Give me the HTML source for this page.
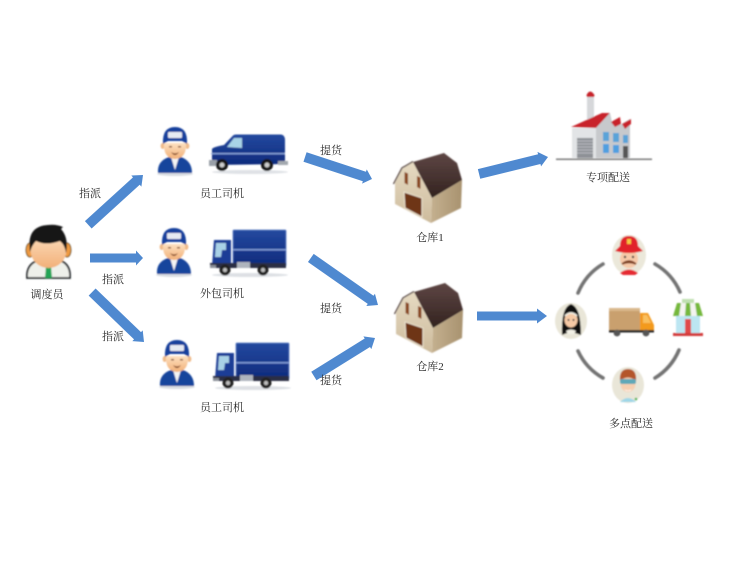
<!DOCTYPE html>
<html lang="zh">
<head>
<meta charset="utf-8">
<style>
html,body{margin:0;padding:0;background:#fff;width:750px;height:561px;overflow:hidden}
svg{display:block}
text{font-family:"Liberation Serif","Noto Serif CJK SC",serif;font-size:11px;fill:#2a2a2a;text-anchor:middle}
</style>
</head>
<body>
<svg width="750" height="561" viewBox="0 0 750 561" xmlns="http://www.w3.org/2000/svg">
<defs>
<filter id="b" x="-10%" y="-10%" width="120%" height="120%"><feGaussianBlur stdDeviation="0.7"/></filter>
<filter id="t" x="-10%" y="-10%" width="120%" height="120%"><feGaussianBlur stdDeviation="0.35"/></filter>
<linearGradient id="box" x1="0" y1="0" x2="0" y2="1"><stop offset="0" stop-color="#24499f"/><stop offset="1" stop-color="#0d2a7c"/></linearGradient>
<linearGradient id="skin" x1="0" y1="0" x2="0" y2="1"><stop offset="0" stop-color="#fde0c0"/><stop offset="1" stop-color="#f2b078"/></linearGradient>
<linearGradient id="wall" x1="0" y1="0" x2="0" y2="1"><stop offset="0" stop-color="#e6dac2"/><stop offset="1" stop-color="#cdbb9c"/></linearGradient>
<linearGradient id="wallr" x1="0" y1="0" x2="1" y2="0"><stop offset="0" stop-color="#c4b08f"/><stop offset="1" stop-color="#a8926f"/></linearGradient>
<linearGradient id="roof" x1="0" y1="0" x2="0" y2="1"><stop offset="0" stop-color="#5e4644"/><stop offset="1" stop-color="#32221f"/></linearGradient>

<g id="driver">
  <ellipse cx="175" cy="174" rx="18" ry="2" fill="#d9dde2"/>
  <path d="M158 173 Q157 161 169 157 L175 160 L181 157 Q192 161 192 173 Z" fill="#15459c"/>
  <path d="M171 157 L175 170 L179 157 Z" fill="#f4f4f4"/>
  <ellipse cx="162.600" cy="146" rx="2" ry="3" fill="#f0bb8a"/>
  <ellipse cx="187.400" cy="146" rx="2" ry="3" fill="#f0bb8a"/>
  <path d="M164 143 L186 143 Q187 158 175 159 Q163 158 164 143 Z" fill="url(#skin)"/>
  <path d="M163 144 Q162 127 175 127 Q188 127 187 144 L182 141 L168 141 Z" fill="#15409c"/>
  <rect x="168" y="132" width="14" height="6" rx="1" fill="#e6eaf2"/>
  <path d="M171 152 Q175 155 179 152 Q175 158 171 152 Z" fill="#7a3d1a"/>
  <rect x="169" y="146" width="3" height="1.500" fill="#8a5a3a"/>
  <rect x="178" y="146" width="3" height="1.500" fill="#8a5a3a"/>
</g>

<g id="truck">
  <ellipse cx="250" cy="275" rx="38" ry="2" fill="#dde0e4"/>
  <rect x="233" y="230" width="53" height="36" rx="1" fill="url(#box)" stroke="#5a7cc4" stroke-width="0.800"/>
  <rect x="233" y="249" width="53" height="1.500" fill="#7f9bd6"/>
  <path d="M214 240 L231 240 L231 266 L212 266 Z" fill="#1a3c96"/>
  <path d="M216 243 L226 243 L226 250 L222 250 L221 257 L215 257 Z" fill="#a9d1e6"/>
  <rect x="210" y="263" width="76" height="5" fill="#2c2f45"/>
  <rect x="237" y="262" width="13" height="6" fill="#aeb4bd"/>
  <rect x="210" y="265" width="6" height="3" fill="#8a8f98"/>
  <circle cx="225" cy="270" r="5.500" fill="#222"/><circle cx="225" cy="270" r="2.200" fill="#bbb"/>
  <circle cx="263" cy="270" r="5.500" fill="#222"/><circle cx="263" cy="270" r="2.200" fill="#bbb"/>
</g>

<g id="barn">
  <path d="M395 183 L402 169 L413 162 L432 198 L431 223 L395 204 Z" fill="url(#wall)"/>
  <path d="M432 198 L462 180 L461 208 L431 223 Z" fill="url(#wallr)"/>
  <path d="M413 162 L444 153 L457 163 L462 180 L432 198 Z" fill="url(#roof)"/>
  <path d="M393.500 184 L402 168 L413 161.500" stroke="#4a3533" stroke-width="1.300" fill="none"/>
  <path d="M404 192 L422 198 L422 217 L405 208 Z" fill="#6e3516" stroke="#f2ead8" stroke-width="0.900"/>
  <path d="M404.500 172 L408 173.500 L408 185 L404.500 183 Z" fill="#8a4a22"/>
  <path d="M417 176 L420.500 177.500 L420.500 189 L417 187 Z" fill="#8a4a22"/>
</g>
</defs>

<!-- arrows -->
<g fill="#4f89d0" filter="url(#t)">
  <path transform="translate(143,175) rotate(-42.300)" d="M-74,-5 L-9,-5 L-9,-7.500 L0,0 L-9,7.500 L-9,5 L-74,5 Z"/>
  <path transform="translate(143,258) rotate(0)" d="M-53,-4.500 L-7,-4.500 L-7,-7.500 L0,0 L-7,7.500 L-7,4.500 L-53,4.500 Z"/>
  <path transform="translate(144,342) rotate(43.900)" d="M-72,-5 L-9,-5 L-9,-7.500 L0,0 L-9,7.500 L-9,5 L-72,5 Z"/>
  <path transform="translate(372,179) rotate(18.200)" d="M-70.500,-5 L-8,-5 L-8,-7.500 L0,0 L-8,7.500 L-8,5 L-70.500,5 Z"/>
  <path transform="translate(378,305) rotate(35)" d="M-82,-5 L-9,-5 L-9,-7.500 L0,0 L-9,7.500 L-9,5 L-82,5 Z"/>
  <path transform="translate(375,338) rotate(-31.900)" d="M-72,-5 L-9,-5 L-9,-7.500 L0,0 L-9,7.500 L-9,5 L-72,5 Z"/>
  <path transform="translate(548,157) rotate(-13.800)" d="M-71,-5 L-9,-5 L-9,-7.500 L0,0 L-9,7.500 L-9,5 L-71,5 Z"/>
  <path transform="translate(547,316) rotate(0)" d="M-70,-4.500 L-10,-4.500 L-10,-7.500 L0,0 L-10,7.500 L-10,4.500 L-70,4.500 Z"/>
</g>

<g filter="url(#b)">
  <!-- manager -->
  <g>
    <path d="M27 278 Q26 264 39 260 L59 260 Q71 264 70 278 Z" fill="#eef0ea" stroke="#23262a" stroke-width="1.800"/>
    <path d="M46 266 L51 266 L52 278 L45 278 Z" fill="#23a455"/>
    <ellipse cx="30" cy="250" rx="4" ry="7" fill="#ef9a3f" stroke="#3a2a18" stroke-width="0.800"/>
    <ellipse cx="67" cy="250" rx="4" ry="7" fill="#ef9a3f" stroke="#3a2a18" stroke-width="0.800"/>
    <ellipse cx="48.500" cy="250" rx="18" ry="18" fill="url(#skin)"/>
    <path d="M30 252 Q26 226 48 225 Q56 224 63 227 L61 229 Q69 238 66 253 Q65 245 60 241 Q46 246 36 241 Q32 245 30 252 Z" fill="#141518"/>
  </g>

  <!-- drivers -->
  <use href="#driver"/>
  <use href="#driver" transform="translate(-1,101)"/>
  <use href="#driver" transform="translate(2,213)"/>

  <!-- van -->
  <g>
    <ellipse cx="250" cy="172" rx="38" ry="2" fill="#dfe2e6"/>
    <path d="M212 149 Q213 147 224 145 L233 135.500 Q234 134.500 236 134.500 L281 134.500 Q285 135 285 140 L285 164 L212 165 Z" fill="url(#box)"/>
    <path d="M227 147 L234 138 L242 138 L242 148 Z" fill="#a8d3e6"/>
    <rect x="211" y="153" width="74" height="1.300" fill="#8fa9de"/>
    <rect x="209" y="160" width="8" height="6" fill="#9aa0a8"/>
    <rect x="278" y="161" width="10" height="4" fill="#a3a8ae"/>
    <circle cx="222" cy="165" r="6" fill="#191919"/><circle cx="222" cy="165" r="2.500" fill="#ccc"/>
    <circle cx="267" cy="165" r="6" fill="#191919"/><circle cx="267" cy="165" r="2.500" fill="#ccc"/>
  </g>

  <!-- trucks -->
  <use href="#truck"/>
  <use href="#truck" transform="translate(3,113)"/>

  <!-- barns -->
  <use href="#barn"/>
  <use href="#barn" transform="translate(1,130)"/>

  <!-- factory -->
  <g>
    <path d="M587 122 L587 94 Q590 89 594 94 L594 122 Z" fill="#d6d7da"/>
    <path d="M586.500 95 Q590 88 594.500 95 L594 97 L587 97 Z" fill="#c8242c"/>
    <rect x="572" y="128" width="24" height="30" fill="#e2e4e6"/>
    <rect x="577" y="138" width="16" height="20" fill="#8e9196"/>
    <path d="M577 141h16M577 144h16M577 147h16M577 150h16M577 153h16" stroke="#b9bcc1" stroke-width="1"/>
    <path d="M571 127 L602 113 L610 113 L596 128 Z" fill="#c8242c"/>
    <path d="M596 128 L610 113 L612 122 L618 119 L620 125 L630 119 L630 158 L596 158 Z" fill="#c7c9cc"/>
    <path d="M611 122 L620 117 L621 124 L615 127 Z" fill="#c8242c"/>
    <path d="M622 124 L631 119 L631 124 L625 129 Z" fill="#c8242c"/>
    <rect x="603" y="132" width="6" height="9" fill="#5aa3d8"/>
    <rect x="603" y="144" width="6" height="9" fill="#4f9fe0"/>
    <rect x="613" y="133" width="6" height="9" fill="#5aa3d8"/>
    <rect x="613" y="145" width="6" height="8" fill="#4f9fe0"/>
    <rect x="623" y="135" width="5" height="8" fill="#5aa3d8"/>
    <rect x="623" y="146" width="5" height="12" fill="#555"/>
    <rect x="556" y="158.500" width="96" height="1.500" fill="#777"/>
  </g>

  <!-- arcs -->
  <g fill="none" stroke="#737373" stroke-width="3.600" stroke-linecap="round">
    <path d="M578 293 A60 60 0 0 1 603 264"/>
    <path d="M655 264 A60 60 0 0 1 680 292"/>
    <path d="M679 350 A60 60 0 0 1 655 378"/>
    <path d="M578 351 A60 60 0 0 0 603 378"/>
  </g>

  <!-- fireman -->
  <g>
    <ellipse cx="629" cy="255" rx="17" ry="20" fill="#ebe8da"/>
    <path d="M620 273 Q629 266 638 273 L635 275 L623 275 Z" fill="#e52b32"/>
    <ellipse cx="629" cy="259" rx="9" ry="9" fill="#f7c9a8"/>
    <path d="M622 264 Q629 258 636 264 Q629 261 622 264 Z" fill="#7b3d1c" stroke="#7b3d1c" stroke-width="1.500"/>
    <circle cx="625" cy="257" r="1.200" fill="#333"/><circle cx="633" cy="257" r="1.200" fill="#333"/>
    <path d="M615 251 Q618 248 620 246 Q620 236 629 236 Q638 236 638 246 Q640 248 643 251 Q629 255 615 251 Z" fill="#e12229"/>
    <rect x="627" y="239" width="4" height="5" fill="#f5c842"/>
  </g>

  <!-- nun -->
  <g>
    <ellipse cx="571" cy="321" rx="16" ry="18" fill="#e9e6d8"/>
    <path d="M562 335 Q561 307 571 304 Q581 307 581 335 L575 333 L567 333 Z" fill="#111"/>
    <ellipse cx="571" cy="320" rx="6.500" ry="7.500" fill="#f6c9a5"/>
    <path d="M565 316 Q571 310 577 316" fill="none" stroke="#f2f0e5" stroke-width="1.600"/>
    <circle cx="568.500" cy="320" r="1" fill="#333"/><circle cx="573.500" cy="320" r="1" fill="#333"/>
    <path d="M566 331 Q571 328 576 331 L574 334 L568 334 Z" fill="#f2f0e5"/>
  </g>

  <!-- delivery truck -->
  <g>
    <rect x="609" y="308" width="31" height="23" fill="#c9a06e"/>
    <rect x="609" y="308" width="31" height="3" fill="#d9b88c"/>
    <path d="M640 313 L648 313 L654 325 L654 331 L640 331 Z" fill="#f39a1f"/>
    <path d="M643 315 L647 315 L651 323 L643 323 Z" fill="#f9c05f"/>
    <rect x="609" y="330" width="45" height="2.500" fill="#2b2b2b"/>
    <circle cx="617" cy="333" r="3.400" fill="#555"/><circle cx="646" cy="333" r="3.400" fill="#555"/>
  </g>

  <!-- shop -->
  <g>
    <rect x="682" y="299" width="12" height="4" fill="#bfe0b0"/>
    <path d="M677 303 L699 303 L703 316 L673 316 Z" fill="#f4f4f0"/>
    <path d="M677 303 L681 303 L679 316 L673 316 Z" fill="#74b83a"/>
    <path d="M686 303 L690 303 L691 316 L685 316 Z" fill="#74b83a"/>
    <path d="M695 303 L699 303 L703 316 L697 316 Z" fill="#74b83a"/>
    <rect x="676" y="316" width="24" height="17" fill="#bce6f2"/>
    <rect x="685" y="319" width="6" height="14" fill="#e04848"/>
    <rect x="673" y="333" width="30" height="3" fill="#d33b3b"/>
  </g>

  <!-- scientist -->
  <g>
    <ellipse cx="628" cy="385" rx="16" ry="18" fill="#e9e6d8"/>
    <path d="M620 402 Q628 394 636 402 Z" fill="#9fd7e8"/>
    <ellipse cx="628" cy="384" rx="7.500" ry="8" fill="#f6cfb0"/>
    <path d="M620 381 Q619 369 628 369 Q637 369 636 381 Q628 374 620 381 Z" fill="#b4572a"/>
    <rect x="620" y="379" width="16" height="5" rx="2" fill="#5fa8b8"/>
    <path d="M624 389 Q628 392 632 389 L630 391 L626 391 Z" fill="#fff"/>
    <circle cx="636" cy="399" r="1.300" fill="#3cb44b"/>
  </g>
</g>

<!-- labels -->
<g filter="url(#t)">
  <text x="90" y="197">指派</text>
  <text x="113" y="283">指派</text>
  <text x="113" y="340">指派</text>
  <text x="47" y="298">调度员</text>
  <text x="222" y="197">员工司机</text>
  <text x="222" y="297">外包司机</text>
  <text x="222" y="411">员工司机</text>
  <text x="331" y="154">提货</text>
  <text x="331" y="312">提货</text>
  <text x="331" y="384">提货</text>
  <text x="430" y="241">仓库1</text>
  <text x="430" y="370">仓库2</text>
  <text x="608" y="181">专项配送</text>
  <text x="631" y="427">多点配送</text>
</g>
</svg>
</body>
</html>
